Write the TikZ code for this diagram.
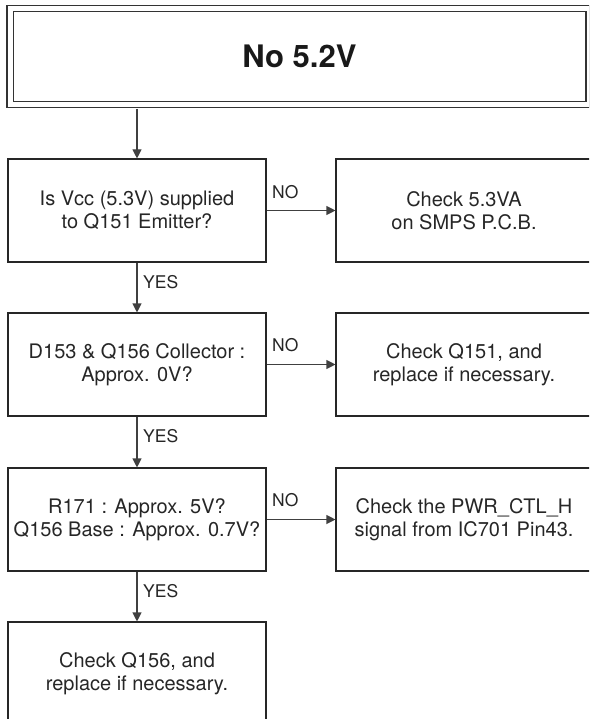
\documentclass[tikz,border=0pt]{standalone}
\usepackage{fontspec}
\setmainfont{TeX Gyre Heros}
\usetikzlibrary{arrows.meta}
\begin{document}
\begin{tikzpicture}[x=1pt,y=-1pt,
 box/.style={draw=black!85, line width=1.1pt, minimum width=258pt, minimum height=103pt, inner sep=0pt, align=center, font=\fontsize{20}{23}\selectfont, text=black!85},
 rbox/.style={box, minimum width=256pt},
 titlebox/.style={draw=black!80, line width=1.2pt, double=white, double distance=5pt, minimum width=579pt, minimum height=96pt, inner sep=0pt, font=\fontsize{31}{34}\selectfont\bfseries, text=black!90},
 arr/.style={draw=black!75, line width=1.1pt, -{Triangle[length=9pt,width=9pt]}},
 lbl/.style={font=\fontsize{17.5}{20}\selectfont, text=black!85, inner sep=0pt}]
\useasboundingbox (0,0) rectangle (589,719);
\clip (0,0) rectangle (589,719);
\node[titlebox] (top) at (299.5,56.5) {No 5.2V};
\node[box] (b1) at (137,210.5) {Is Vcc (5.3V) supplied\\to Q151 Emitter?};
\node[rbox] (r1) at (464,210.5) {Check 5.3VA\\on SMPS P.C.B.};
\node[box] (b2) at (137,364.5) {D153 \& Q156 Collector :\\Approx. 0V?};
\node[rbox] (r2) at (464,364.5) {Check Q151, and\\replace if necessary.};
\node[box] (b3) at (137,519.5) {R171 : Approx. 5V?\\Q156 Base : Approx. 0.7V?};
\node[rbox] (r3) at (464,519.5) {Check the PWR\_CTL\_H\\signal from IC701 Pin43.};
\node[box] (b4) at (137,673.5) {Check Q156, and\\replace if necessary.};
\draw[arr, shorten <=3.7pt] (top.south -| b1.north) -- (b1.north);
\draw[arr] (b1) -- (b2);
\draw[arr] (b2) -- (b3);
\draw[arr] (b3) -- (b4);
\draw[arr] (b1) -- (r1);
\draw[arr] (b2) -- (r2);
\draw[arr] (b3) -- (r3);
\node[lbl, anchor=west] (y1) at (143,282) {YES};
\node[lbl, anchor=west] (y2) at (143,436) {YES};
\node[lbl, anchor=west] (y3) at (143,591) {YES};
\node[lbl, anchor=west] (n1) at (272,192) {NO};
\node[lbl, anchor=west] (n2) at (272,345) {NO};
\node[lbl, anchor=west] (n3) at (272,500) {NO};
\end{tikzpicture}
\end{document}
